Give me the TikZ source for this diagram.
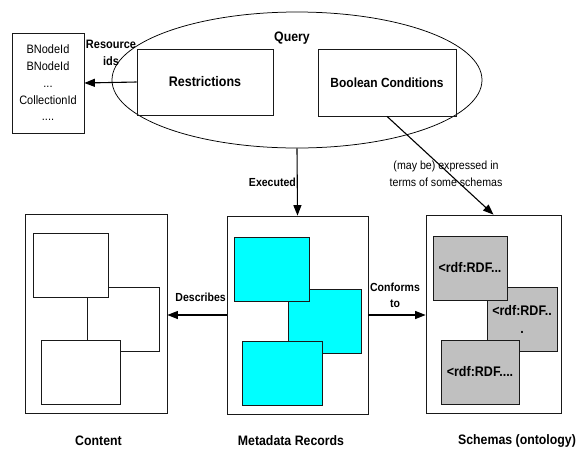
\documentclass[tikz,border=0pt]{standalone}
\usepackage{fontspec}
\setmainfont{Liberation Sans}[FakeStretch=0.9]
\usetikzlibrary{shapes.geometric,arrows.meta}
\definecolor{cyanfill}{HTML}{00FFFF}
\definecolor{grayfill}{HTML}{C0C0C0}
\begin{document}
\begin{tikzpicture}[x=1pt,y=-1pt,
  box/.style={draw=black!90, line width=0.75pt, inner sep=0pt},
  wbox/.style={box, fill=white},
  cbox/.style={box, fill=cyanfill},
  gbox/.style={box, fill=grayfill, font=\bfseries\fontsize{13.9}{18}\selectfont, align=center},
  biglab/.style={font=\bfseries\fontsize{13.7}{15}\selectfont, inner sep=0pt},
  smalllab/.style={font=\bfseries\fontsize{11.7}{16}\selectfont, inner sep=0pt, align=center},
  arr/.style={line width=1.1pt, -{Triangle[length=10.5pt,width=8pt]}}
]
\useasboundingbox (0,0) rectangle (578,451);
% query ellipse
\node[ellipse, draw=black, line width=0.75pt, minimum width=370pt, minimum height=136pt, inner sep=0pt] (query) at (297,80) {};
\node[biglab] (qlab) at (292,38) {Query};
\node[box, minimum width=136pt, minimum height=66pt, font=\bfseries\fontsize{13.9}{15}\selectfont] (restr) at (205,82) {Restrictions};
\node[box, minimum width=138pt, minimum height=67pt, font=\bfseries\fontsize{13.3}{15}\selectfont] (bool) at (387,82.5) {Boolean Conditions};
% resource ids box
\node[box, minimum width=72pt, minimum height=100pt, align=center, font=\fontsize{12.2}{16.75}\selectfont] (res) at (48,83) {BNodeId\\BNodeId\\...\\CollectionId\\....};
\node[font=\bfseries\fontsize{12.2}{17}\selectfont, inner sep=0pt, align=center] (reslab) at (111,53) {Resource\\ids};
% content
\node[box, minimum width=142pt, minimum height=199pt] (content) at (96,313.5) {};
\node[wbox, minimum width=72pt, minimum height=64pt] (c2) at (123,319) {};
\node[wbox, minimum width=75pt, minimum height=64pt] (c1) at (70.5,265) {};
\node[wbox, minimum width=79pt, minimum height=64pt] (c3) at (80.5,372) {};
% metadata
\node[box, minimum width=141pt, minimum height=198pt] (meta) at (297.5,315) {};
\node[cbox, minimum width=73pt, minimum height=64pt] (m2) at (324.5,321) {};
\node[cbox, minimum width=75pt, minimum height=64pt] (m1) at (271.5,269) {};
\node[cbox, minimum width=80pt, minimum height=64pt] (m3) at (282,373) {};
% schemas
\node[box, minimum width=135pt, minimum height=198pt] (schemas) at (493.5,314) {};
\node[gbox, minimum width=70pt, minimum height=64pt] (s2) at (522,319) {<rdf:RDF..\\.};
\node[gbox, minimum width=74pt, minimum height=64pt] (s1) at (470,268) {<rdf:RDF...};
\node[gbox, minimum width=78pt, minimum height=64pt] (s3) at (480,372) {<rdf:RDF....};
% arrows
\draw[arr] (restr.west) -- (res.east);
\draw[arr] (query.south) -- (meta.north);
\draw[arr] (bool.south) -- (schemas.north);
\draw[arr] (meta.west) -- (content.east |- meta.west);
\draw[arr] (meta.east) -- (schemas.west |- meta.east);
% labels
\node[smalllab, anchor=east] (exlab) at (296,182) {Executed};
\node[font=\fontsize{11.8}{17}\selectfont, inner sep=0pt, align=center] (explab) at (446,173.5) {(may be) expressed in\\terms of some schemas};
\node[smalllab, anchor=east] (desclab) at (226,297) {Describes};
\node[smalllab] (conflab) at (395,295) {Conforms\\to};
\node[biglab] (contlab) at (98.5,441) {Content};
\node[biglab] (metalab) at (291,441) {Metadata Records};
\node[biglab] (schlab) at (517,441) {Schemas (ontology)};
\end{tikzpicture}
\end{document}
